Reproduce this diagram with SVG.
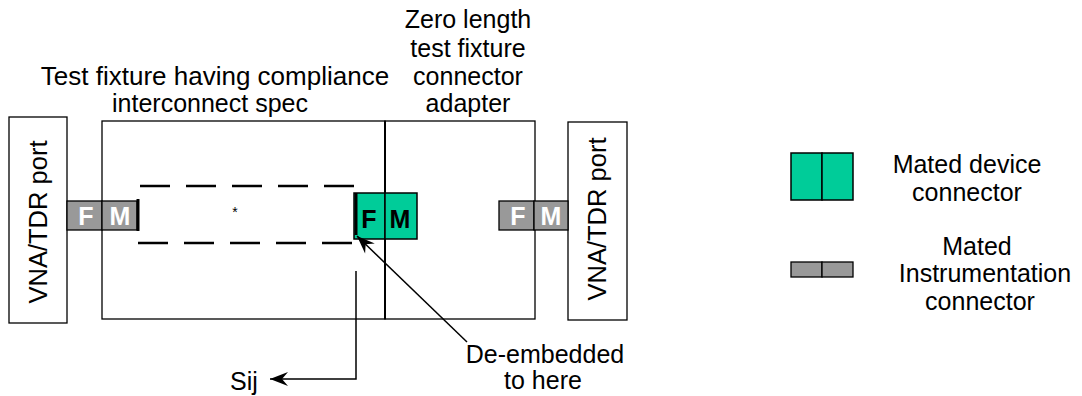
<svg xmlns="http://www.w3.org/2000/svg" width="1082" height="396" viewBox="0 0 1082 396">
<style>
text{font-family:"Liberation Sans",Arial,sans-serif;fill:#000}
.t{font-size:24px;text-anchor:middle}
.box{fill:#fff;stroke:#000;stroke-width:1.3}
.gr{fill:#999;stroke:#000;stroke-width:1.3}
.gn{fill:#00cc99;stroke:#000;stroke-width:1.5}
.fmw{font-size:25px;font-weight:bold;text-anchor:middle;fill:#fff}
.fmb{font-size:25px;font-weight:bold;text-anchor:middle;fill:#000}
.dash{stroke:#000;stroke-width:2.5;stroke-dasharray:30 16;fill:none}
.conn{stroke:#000;stroke-width:1.5;fill:none}
</style>
<defs>
<marker id="arr" viewBox="-19 -8 20 16" refX="0" refY="0" markerWidth="20" markerHeight="16" markerUnits="userSpaceOnUse" orient="auto">
<path d="M0,0 L-18,-7 L-12,0 L-18,7 Z" fill="#000"/>
</marker>
</defs>
<g id="title-fixture">
<text class="t" x="215" y="85" style="font-size:26px">Test fixture having compliance</text>
<text class="t" x="210" y="112" style="font-size:25px">interconnect spec</text>
</g>
<g id="title-adapter">
<text class="t" x="468" y="28" style="font-size:25px">Zero length</text>
<text class="t" x="468" y="57" style="font-size:25px">test fixture</text>
<text class="t" x="468" y="85" style="font-size:25px">connector</text>
<text class="t" x="468" y="112" style="font-size:25px">adapter</text>
</g>
<g id="vna-left">
<rect class="box" x="9" y="117" width="58" height="206"/>
<text class="t" transform="translate(47,222) rotate(-90)" style="font-size:25.5px">VNA/TDR port</text>
</g>
<g id="fixture">
<rect class="box" x="102" y="121" width="283" height="198"/>
</g>
<g id="adapter">
<rect class="box" x="385" y="121" width="150" height="198"/>
<line x1="385" y1="121" x2="385" y2="319" stroke="#000" stroke-width="2"/>
</g>
<g id="vna-right">
<rect class="box" x="568" y="122" width="59" height="198"/>
<text class="t" transform="translate(606,219) rotate(-90)" style="font-size:25.5px">VNA/TDR port</text>
</g>
<g id="trace">
<line class="dash" x1="140" y1="186" x2="355" y2="186"/>
<line class="dash" x1="138" y1="243" x2="353" y2="243"/>
<text x="235" y="217" style="font-size:14px;text-anchor:middle">*</text>
</g>
<g id="conn-left">
<rect class="gr" x="67" y="201" width="35" height="29"/>
<rect class="gr" x="102" y="201" width="35" height="29"/>
<text class="fmw" x="86" y="225">F</text>
<text class="fmw" x="120" y="225">M</text>
<line x1="138" y1="199" x2="138" y2="231" stroke="#000" stroke-width="3"/>
</g>
<g id="conn-device">
<rect class="gn" x="354" y="193" width="31" height="46"/>
<rect class="gn" x="385" y="193" width="32" height="46"/>
<text class="fmb" x="369" y="228">F</text>
<text class="fmb" x="400" y="228">M</text>
<line x1="356" y1="193" x2="356" y2="235" stroke="#000" stroke-width="3"/>
</g>
<g id="conn-right">
<rect class="gr" x="499" y="201" width="35" height="29"/>
<rect class="gr" x="534" y="201" width="34" height="29"/>
<text class="fmw" x="518" y="225">F</text>
<text class="fmw" x="551" y="225">M</text>
</g>
<g id="connectors">
<polyline class="conn" points="356,271 356,379 270,379" marker-end="url(#arr)"/>
<line class="conn" x1="467" y1="342" x2="357" y2="236" marker-end="url(#arr)"/>
</g>
<g id="label-sij">
<text x="230" y="390" style="font-size:25px">Sij</text>
</g>
<g id="label-deembed">
<text class="t" x="545" y="363" style="font-size:25px">De-embedded</text>
<text class="t" x="543" y="389" style="font-size:25px">to here</text>
</g>
<g id="legend-device">
<rect class="gn" x="791" y="153" width="31" height="47"/>
<rect class="gn" x="822" y="153" width="31" height="47"/>
<text class="t" x="967" y="173" style="font-size:25px">Mated device</text>
<text class="t" x="967" y="201" style="font-size:25px">connector</text>
</g>
<g id="legend-instr">
<rect class="gr" x="791" y="262" width="31" height="15"/>
<rect class="gr" x="822" y="262" width="31" height="15"/>
<text class="t" x="977" y="255" style="font-size:25px">Mated</text>
<text class="t" x="985" y="282" style="font-size:25px">Instrumentation</text>
<text class="t" x="980" y="310" style="font-size:25px">connector</text>
</g>
</svg>
